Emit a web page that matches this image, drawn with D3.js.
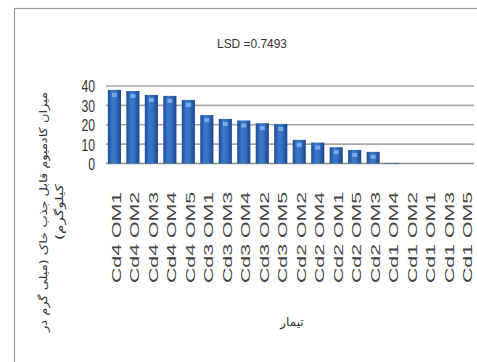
<!DOCTYPE html>
<html>
<head>
<meta charset="utf-8">
<script src="https://cdn.jsdelivr.net/npm/d3@7"></script>
<style>
  html, body { margin: 0; padding: 0; background: #fff; }
  svg { display: block; }
</style>
</head>
<body>
<div id="chart"></div>
<script>
// treatments in the order they appear on the x axis
const categories = [
  'Cd4 OM1', 'Cd4 OM2', 'Cd4 OM3', 'Cd4 OM4', 'Cd4 OM5',
  'Cd3 OM1', 'Cd3 OM3', 'Cd3 OM4', 'Cd3 OM2', 'Cd3 OM5',
  'Cd2 OM2', 'Cd2 OM4', 'Cd2 OM1', 'Cd2 OM5', 'Cd2 OM3',
  'Cd1 OM4', 'Cd1 OM2', 'Cd1 OM1', 'Cd1 OM3', 'Cd1 OM5'
];
const values = [
  38.0, 37.4, 35.4, 34.9, 32.8,
  25.0, 23.0, 22.2, 20.8, 20.4,
  12.2, 10.8, 8.4, 7.0, 6.0,
  0.3, 0, 0, 0, 0
];
const yTicks = [0, 10, 20, 30, 40];
const titleText = 'LSD =0.7493';
const xTitle = 'تیمار';
const yTitleLines = ['میزان کادمیوم قابل جذب خاک (میلی گرم در', 'کیلوگرم)'];

const W = 477, H = 362;
const plot = { left: 106, right: 474, top: 86, bottom: 163.5 };

const svg = d3.select('#chart').append('svg')
  .attr('width', W).attr('height', H);

// outer frame
svg.append('rect')
  .attr('x', 14.5).attr('y', 8.5)
  .attr('width', W).attr('height', H)
  .attr('fill', '#fff').attr('stroke', '#9a9a9a').attr('stroke-width', 1.2);

const x = d3.scaleBand().domain(categories).range([plot.left, plot.right]).paddingInner(0.29).paddingOuter(0.1);
const y = d3.scaleLinear().domain([0, 40]).range([plot.bottom, plot.top]);

// gradient for bars
const defs = svg.append('defs');
const grad = defs.append('linearGradient').attr('id', 'barGrad')
  .attr('x1', '0%').attr('x2', '100%').attr('y1', '0%').attr('y2', '0%');
grad.append('stop').attr('offset', '0%').attr('stop-color', '#1d4c92');
grad.append('stop').attr('offset', '35%').attr('stop-color', '#3b78cc');
grad.append('stop').attr('offset', '60%').attr('stop-color', '#3470c4');
grad.append('stop').attr('offset', '100%').attr('stop-color', '#1a4589');

// gridlines
svg.append('g').selectAll('line')
  .data(yTicks)
  .join('line')
  .attr('x1', plot.left).attr('x2', plot.right)
  .attr('y1', d => y(d)).attr('y2', d => y(d))
  .attr('stroke', d => d === 0 ? '#8c8c8c' : '#a8a8a8')
  .attr('stroke-width', 1.6);

// y tick labels
svg.append('g').selectAll('text')
  .data(yTicks)
  .join('text')
  .attr('transform', d => `translate(95,${y(d) + 2}) scale(0.72,1)`)
  .attr('text-anchor', 'end')
  .attr('dominant-baseline', 'middle')
  .style('font-family', 'Liberation Sans, Arial, sans-serif')
  .style('font-size', '17px')
  .attr('fill', '#333')
  .text(d => d);

// bars
const bars = svg.append('g').selectAll('g')
  .data(categories.map((c, i) => ({ cat: c, val: values[i] })))
  .join('g');

bars.append('rect')
  .attr('x', d => x(d.cat))
  .attr('y', d => y(d.val))
  .attr('width', x.bandwidth())
  .attr('height', d => y(0) - y(d.val))
  .attr('fill', 'url(#barGrad)');

// small highlight near bar tops
bars.filter(d => d.val > 3).append('rect')
  .attr('x', d => x(d.cat) + x.bandwidth() / 2 - 2.5)
  .attr('y', d => y(d.val) + 3)
  .attr('width', 5).attr('height', 4)
  .attr('fill', '#8fb8ec').attr('opacity', 0.8);

// x labels
svg.append('g').selectAll('text')
  .data(categories)
  .join('text')
  .attr('transform', d => `translate(${x(d) + x.bandwidth() / 2 + 2},192) rotate(-90)`)
  .attr('text-anchor', 'end')
  .attr('dy', '0.35em')
  .attr('textLength', 91)
  .attr('lengthAdjust', 'spacingAndGlyphs')
  .style('font-family', 'Liberation Sans, Arial, sans-serif')
  .style('font-size', '13px')
  .attr('fill', '#444')
  .text(d => d);

// title
svg.append('text')
  .attr('x', 252).attr('y', 48)
  .attr('text-anchor', 'middle')
  .attr('textLength', 70)
  .attr('lengthAdjust', 'spacingAndGlyphs')
  .style('font-family', 'Liberation Sans, Arial, sans-serif')
  .style('font-size', '13px')
  .attr('fill', '#333')
  .text(titleText);

// x axis title
svg.append('text')
  .attr('x', 292).attr('y', 326)
  .attr('text-anchor', 'middle')
  .style('font-family', 'DejaVu Sans, sans-serif')
  .style('font-size', '12px')
  .attr('fill', '#333')
  .text(xTitle);

// y axis title (two lines, each its own text so both centre on y = 212)
const yTitleLen = [240, 56];
yTitleLines.forEach((line, i) => {
  const t = svg.append('text')
    .attr('transform', `translate(${47 + i * 16},212) rotate(-90)`)
    .attr('text-anchor', 'middle')
    .attr('x', 0).attr('y', 0)
    .attr('textLength', yTitleLen[i])
    .attr('lengthAdjust', 'spacingAndGlyphs')
    .style('font-family', 'DejaVu Sans, sans-serif')
    .style('font-size', '11px')
    .attr('fill', '#333')
    .text(line);
  if (i === 1) t.attr('direction', 'rtl');
});
</script>
</body>
</html>
